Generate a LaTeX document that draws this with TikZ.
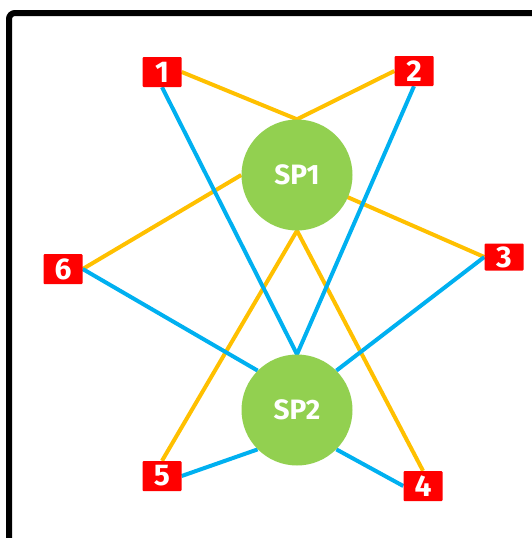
\documentclass[tikz,border=0pt]{standalone}
\usepackage{fontspec}
\setmainfont{Fira Sans}
\usetikzlibrary{backgrounds}
\definecolor{boxred}{HTML}{FF0000}
\definecolor{spgreen}{HTML}{92D050}
\definecolor{lineorange}{HTML}{FFC000}
\definecolor{lineblue}{HTML}{00B0F0}
\begin{document}
\begin{tikzpicture}[x=1pt,y=-1pt,
  numbox/.style={fill=boxred, rounded corners=1pt, minimum width=39pt, minimum height=30pt, inner sep=0pt, text=white, font=\fontsize{30}{30}\selectfont\bfseries},
  spnode/.style={circle, fill=spgreen, minimum size=111pt, inner sep=0pt, text=white, font=\fontsize{28}{28}\selectfont\bfseries},
  oline/.style={draw=lineorange, line width=4pt},
  bline/.style={draw=lineblue, line width=4pt}]
\useasboundingbox (0,0) rectangle (532,538);
\draw[line width=6pt, rounded corners=6pt] (9,560) -- (9,13) -- (560,13);
\node[spnode] (sp1) at (297,175) {SP1};
\node[spnode] (sp2) at (297,410) {SP2};
\node[numbox] (n1) at (162,72) {1};
\node[numbox] (n2) at (414,71) {2};
\node[numbox, minimum height=27pt] (n3) at (504,257) {3};
\node[numbox] (n4) at (423,486) {4};
\node[numbox] (n5) at (162,476) {5};
\node[numbox] (n6) at (63,269) {6};
\begin{pgfonlayer}{background}
\draw[oline] (n1.east) -- (sp1.north) -- (n2.west);
\draw[oline] (n6.east) -- (sp1.west);
\draw[oline] (sp1.center) -- (n3.west);
\draw[oline] (n5.north) -- (sp1.south) -- (n4.north);
\draw[bline] (n1.south) -- (sp2.north) -- (n2.south);
\draw[bline] (n6.east) -- (sp2.north west);
\draw[bline] (n3.west) -- (sp2.north east);
\draw[bline] (n5.east) -- (sp2.south west);
\draw[bline] (n4.west) -- (sp2.south east);
\end{pgfonlayer}
\end{tikzpicture}
\end{document}
